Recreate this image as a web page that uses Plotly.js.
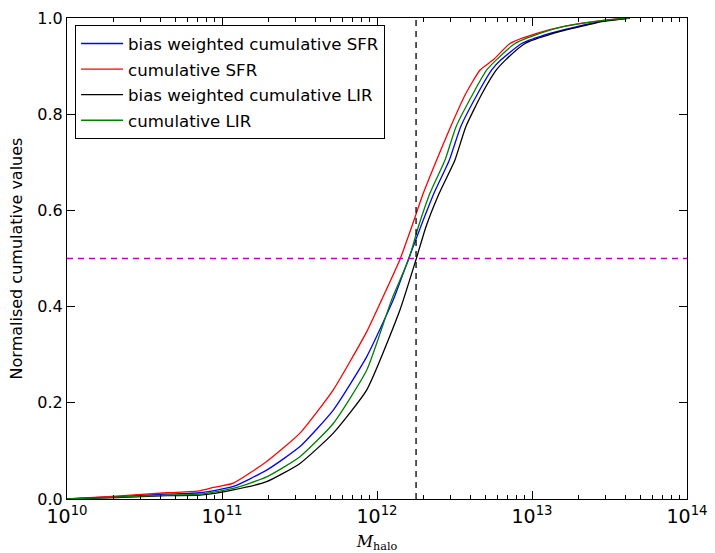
<!DOCTYPE html>
<html>
<head>
<meta charset="utf-8">
<script src="https://cdn.plot.ly/plotly-3.0.1.min.js"></script>
<style>body{margin:0;background:#fff}</style>
</head>
<body>
<div id="plotLyGoesHere" style="width:715px;height:553px"></div>
<script>
// values, log10(M_halo) vs normalised cumulative value

var biasSfrLogM = [10, 10.32, 10.645, 10.858, 11.073, 11.288, 11.503, 11.718, 11.934, 12.105, 12.202, 12.282, 12.368, 12.467, 12.54, 12.65, 12.74, 12.8, 12.934, 13.116, 13.29, 13.46, 13.63]
var biasSfrVal  = [0, 0.005, 0.01, 0.013, 0.026, 0.06, 0.109, 0.185, 0.296, 0.414, 0.498, 0.566, 0.636, 0.705, 0.774, 0.843, 0.892, 0.913, 0.947, 0.968, 0.982, 0.994, 1.0]

var sfrLogM = [10, 10.32, 10.645, 10.858, 10.946, 11.073, 11.288, 11.503, 11.718, 11.934, 12.03, 12.148, 12.224, 12.299, 12.385, 12.475, 12.573, 12.665, 12.75, 12.858, 13.03, 13.2, 13.46, 13.63]
var sfrVal  = [0, 0.006, 0.013, 0.017, 0.024, 0.033, 0.078, 0.137, 0.227, 0.348, 0.414, 0.498, 0.566, 0.636, 0.705, 0.774, 0.843, 0.892, 0.913, 0.947, 0.968, 0.982, 0.995, 1.0]

var biasLirLogM = [10, 10.32, 10.645, 10.858, 11.073, 11.288, 11.503, 11.718, 11.934, 12.148, 12.252, 12.316, 12.402, 12.503, 12.573, 12.678, 12.77, 12.83, 12.955, 13.137, 13.31, 13.46, 13.63]
var biasLirVal  = [0, 0.003, 0.007, 0.008, 0.019, 0.036, 0.074, 0.137, 0.227, 0.393, 0.498, 0.566, 0.636, 0.705, 0.774, 0.843, 0.892, 0.913, 0.947, 0.968, 0.982, 0.993, 1.0]

var lirLogM = [10, 10.32, 10.645, 10.858, 11.073, 11.288, 11.503, 11.718, 11.934, 12.094, 12.204, 12.267, 12.342, 12.439, 12.51, 12.62, 12.708, 12.77, 12.89, 13.05, 13.2, 13.46, 13.63]
var lirVal  = [0, 0.004, 0.008, 0.01, 0.022, 0.046, 0.088, 0.157, 0.268, 0.414, 0.498, 0.566, 0.636, 0.705, 0.774, 0.843, 0.892, 0.913, 0.947, 0.968, 0.982, 0.995, 1.0]

var medianLogM = 12.252
var halfLevel = 0.5

var xTickVals = [1e10, 1e11, 1e12, 1e13, 1e14]
var xTickText = ['10<sup>10</sup>', '10<sup>11</sup>', '10<sup>12</sup>', '10<sup>13</sup>', '10<sup>14</sup>']

var toM = function(arr){ return arr.map(function(l){ return Math.pow(10, l) }) }

var mk = function(lx, y, name, col){
  return {x: toM(lx), y: y, name: name, legendgroup: name, mode: 'lines', type: 'scatter',
          line: {color: col, width: 1.3, shape: 'spline', smoothing: 0.5}}
}

var data = [
  mk(biasSfrLogM, biasSfrVal, 'bias weighted cumulative SFR', '#0000ff'),
  mk(sfrLogM, sfrVal, 'cumulative SFR', '#ff0000'),
  mk(biasLirLogM, biasLirVal, 'bias weighted cumulative LIR', '#000000'),
  mk(lirLogM, lirVal, 'cumulative LIR', '#008000'),
  {x: [Math.pow(10, medianLogM), Math.pow(10, medianLogM)], y: [0, 1], mode: 'lines', showlegend: false,
   line: {color: '#000', width: 1.3, dash: '6px,5px'}},
  {x: [1e10, 1e14], y: [halfLevel, halfLevel], mode: 'lines', showlegend: false,
   line: {color: '#bf00bf', width: 1.3, dash: '6px,5px'}}
]

var layout = {
  width: 715, height: 553,
  margin: {l: 67, r: 28, t: 18, b: 54},
  paper_bgcolor: '#fff', plot_bgcolor: '#fff',
  font: {family: 'DejaVu Sans', size: 16, color: '#000'},
  showlegend: true,
  legend: {x: 0.013, y: 0.985, xanchor: 'left', yanchor: 'top', bordercolor: '#000', borderwidth: 1,
           bgcolor: '#fff', font: {family: 'DejaVu Sans', size: 16.6}, tracegroupgap: 1, itemwidth: 42},
  xaxis: {type: 'log', range: [10, 14], tickvals: xTickVals, ticktext: xTickText,
          showline: true, mirror: 'ticks', linecolor: '#000', linewidth: 1,
          ticks: 'inside', ticklen: 8, tickcolor: '#000', showgrid: false, zeroline: false,
          minor: {ticks: 'inside', ticklen: 4, tickcolor: '#000', dtick: 'D1', showgrid: false},
          tickfont: {family: 'DejaVu Sans', size: 19},
          title: {text: '<i>M</i><sub>halo</sub>', font: {family: 'DejaVu Serif', size: 16}, standoff: 10}},
  yaxis: {range: [0, 1], dtick: 0.2, tickformat: '.1f',
          showline: true, mirror: 'ticks', linecolor: '#000', linewidth: 1,
          ticks: 'inside', ticklen: 8, tickcolor: '#000', showgrid: false, zeroline: false,
          tickfont: {family: 'DejaVu Sans', size: 16},
          title: {text: 'Normalised cumulative values', font: {family: 'DejaVu Sans', size: 16}, standoff: 10}}
}

Plotly.newPlot('plotLyGoesHere', data, layout, {displayModeBar: false, staticPlot: true})
</script>
</body>
</html>
